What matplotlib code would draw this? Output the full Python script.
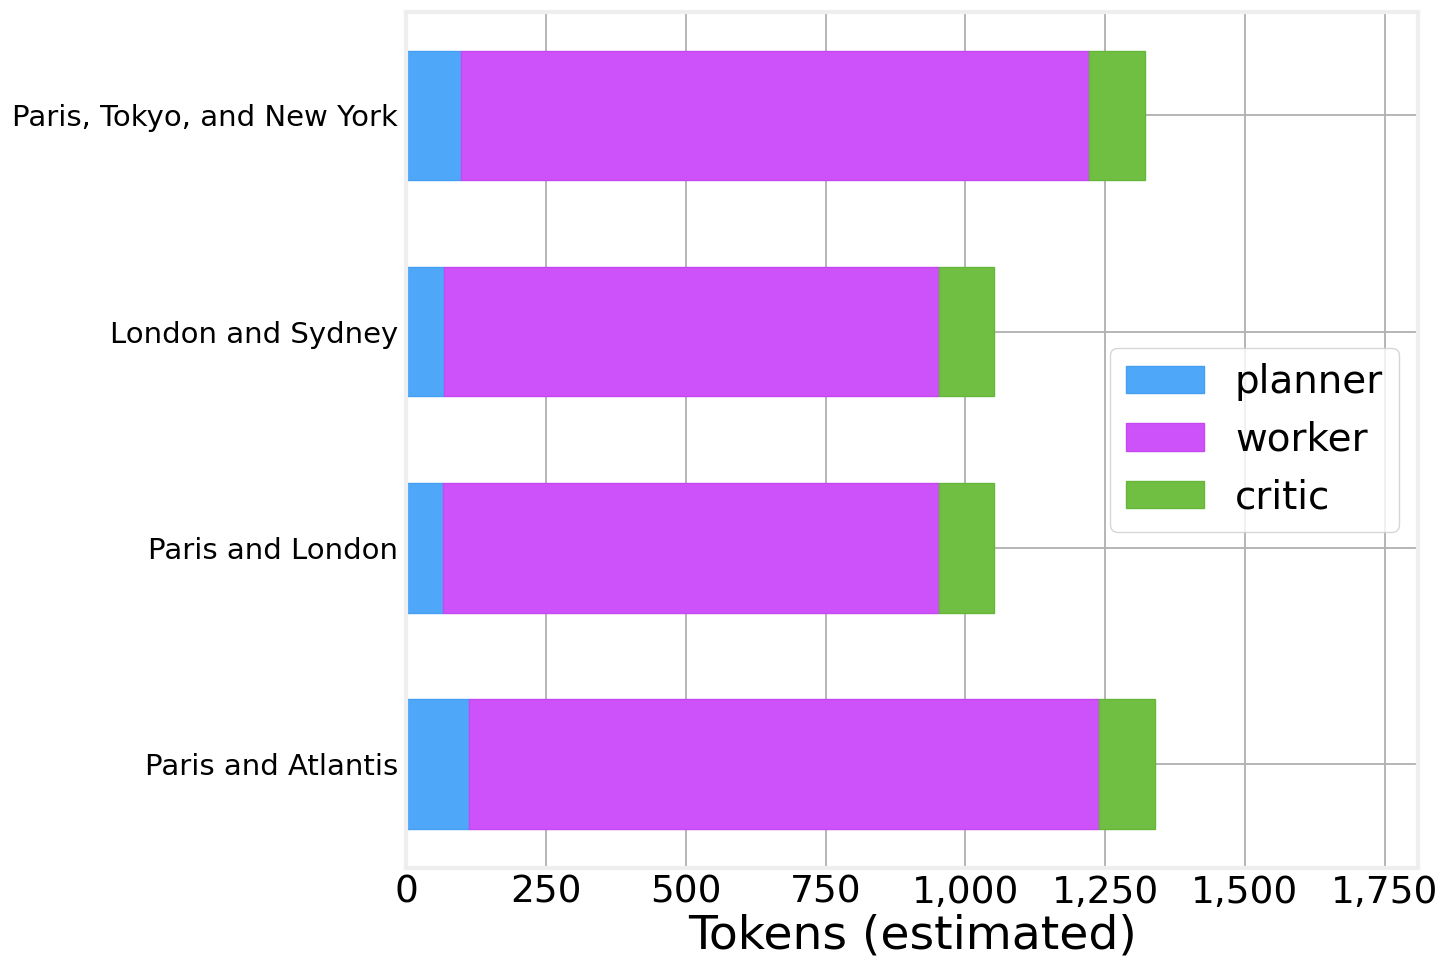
import numpy as np
import matplotlib
matplotlib.use('Agg')
import matplotlib.pyplot as plt
from matplotlib.ticker import FuncFormatter

# data
queries = ['Paris and Atlantis', 'Paris and London', 'London and Sydney', 'Paris, Tokyo, and New York']
planner = [113, 66, 68, 98]
worker = [1126, 887, 885, 1123]
critic = [101, 98, 98, 100]

colors = {'planner': '#4fa7fa', 'worker': '#ce52fa', 'critic': '#70be42'}
edges = {'planner': '#45a0f4', 'worker': '#c548f2', 'critic': '#66b638'}

fig = plt.figure(figsize=(14.56, 9.76), dpi=100)
ax = fig.add_axes([0.279, 0.111, 0.695, 0.877])

y = np.arange(len(queries))
left = np.zeros(len(queries))
for name, vals in [('planner', planner), ('worker', worker), ('critic', critic)]:
    ax.barh(y, vals, left=left, height=0.6, color=colors[name],
            edgecolor=edges[name], linewidth=1, label=name)
    left = left + np.array(vals)

ax.set_yticks(y)
ax.set_yticklabels(queries, fontsize=21)
ax.set_xlim(0, 1810)
ax.set_xticks(np.arange(0, 1751, 250))
ax.xaxis.set_major_formatter(FuncFormatter(lambda v, p: '{:,.0f}'.format(v)))
ax.tick_params(axis='x', labelsize=27, length=0, pad=5)
ax.tick_params(axis='y', length=0, pad=6)
ax.set_xlabel('Tokens (estimated)', fontsize=34, labelpad=2)

ax.set_axisbelow(True)
ax.grid(True, color='#b0b0b0', linewidth=1.3)
for s in ax.spines.values():
    s.set_color('#eeeeee')
    s.set_linewidth(3)

ax.legend(loc='center right', fontsize=28)

fig.savefig('out.png', dpi=100)
